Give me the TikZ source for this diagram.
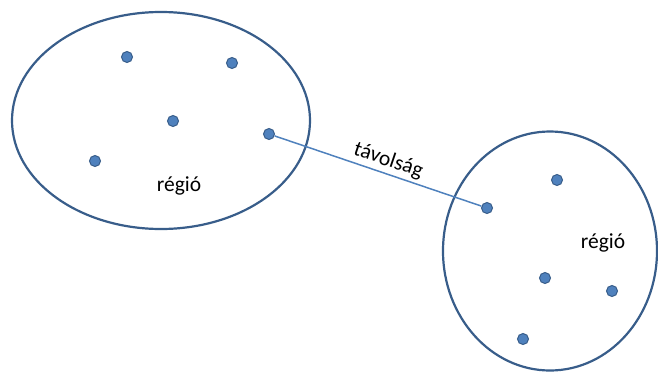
\documentclass[tikz,border=0pt]{standalone}
\usepackage{fontspec}
\setmainfont{Carlito}
\definecolor{rimblue}{HTML}{385D8A}
\definecolor{dotblue}{HTML}{4F81BD}
\tikzset{
  region/.style={draw=rimblue, line width=2.2pt},
  pt/.style={circle, fill=dotblue, draw=rimblue, line width=1pt, inner sep=0pt, minimum size=11pt},
  link/.style={draw=dotblue, line width=1.5pt},
  lbl/.style={font=\fontsize{21.5}{24}\selectfont, text=black}
}
\begin{document}
\begin{tikzpicture}[x=1pt, y=-1pt]
\useasboundingbox (0,0) rectangle (658,372);
% two regions
\draw[region] (161,120.5) ellipse [x radius=149, y radius=108.5];
\draw[region] (550,251) ellipse [x radius=107, y radius=119.5];
% points of the first region
\node[pt] (a1) at (127,57) {};
\node[pt] (a2) at (232,63) {};
\node[pt] (a3) at (173,121) {};
\node[pt] (a4) at (269,134) {};
\node[pt] (a5) at (95,161) {};
\node[lbl] (ra) at (179,186) {régió};
% points of the second region
\node[pt] (b1) at (487,208) {};
\node[pt] (b2) at (557,180) {};
\node[pt] (b3) at (545,278) {};
\node[pt] (b4) at (612,291) {};
\node[pt] (b5) at (523,339) {};
\node[lbl] (rb) at (603,243) {régió};
% distance between the two regions
\draw[link] (a4) -- (b1) node[lbl, pos=0.53, above, sloped, inner sep=3pt] (d) {távolság};
\end{tikzpicture}
\end{document}
